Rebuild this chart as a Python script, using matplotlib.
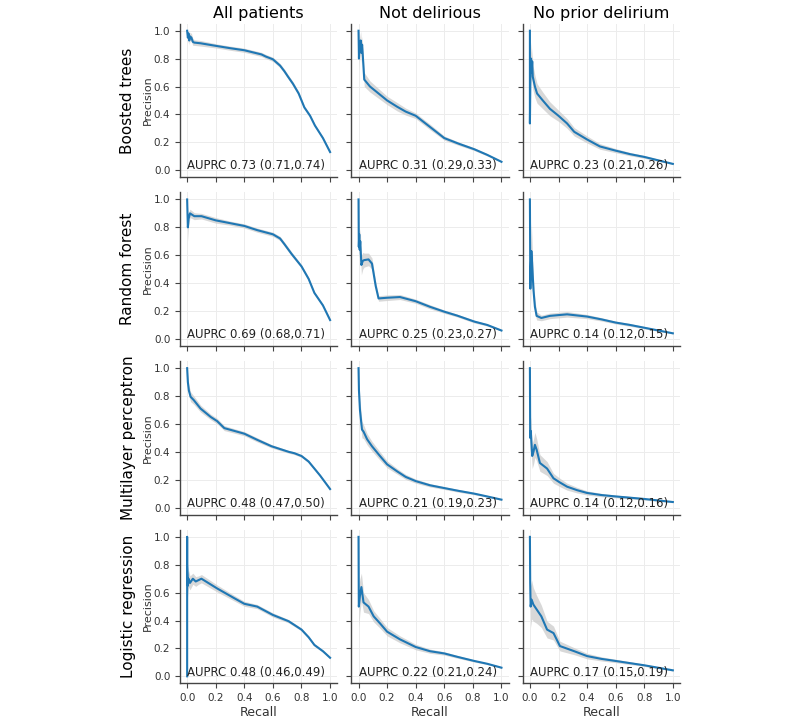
import matplotlib.pyplot as plt
import numpy as np

# Column / row names
groups = ['All patients', 'Not delirious', 'No prior delirium']
models = ['Boosted trees', 'Random forest', 'Multilayer perceptron', 'Logistic regression']

auprc_text = [
    ['AUPRC 0.73 (0.71,0.74)', 'AUPRC 0.31 (0.29,0.33)', 'AUPRC 0.23 (0.21,0.26)'],
    ['AUPRC 0.69 (0.68,0.71)', 'AUPRC 0.25 (0.23,0.27)', 'AUPRC 0.14 (0.12,0.15)'],
    ['AUPRC 0.48 (0.47,0.50)', 'AUPRC 0.21 (0.19,0.23)', 'AUPRC 0.14 (0.12,0.16)'],
    ['AUPRC 0.48 (0.46,0.49)', 'AUPRC 0.22 (0.21,0.24)', 'AUPRC 0.17 (0.15,0.19)'],
]

# Boosted trees
bt_all_recall = [0, 0.005, 0.01, 0.015, 0.02, 0.03, 0.04, 0.05, 0.094, 0.21, 0.3, 0.4, 0.52, 0.55, 0.6, 0.65, 0.68, 0.706, 0.74, 0.78, 0.8, 0.82, 0.86, 0.894, 0.95, 1.0]
bt_all_prec = [1.0, 0.95, 0.98, 0.93, 0.96, 0.95, 0.92, 0.915, 0.91, 0.89, 0.875, 0.86, 0.83, 0.815, 0.795, 0.75, 0.71, 0.67, 0.62, 0.55, 0.5, 0.45, 0.39, 0.32, 0.23, 0.13]
bt_all_band = [0.02, 0.04, 0.04, 0.03, 0.03, 0.03, 0.025, 0.02, 0.02, 0.015, 0.015, 0.015, 0.015, 0.015, 0.015, 0.015, 0.015, 0.015, 0.015, 0.015, 0.015, 0.012, 0.012, 0.01, 0.01, 0.01]

bt_nd_recall = [0, 0.003, 0.006, 0.01, 0.015, 0.02, 0.025, 0.03, 0.04, 0.08, 0.14, 0.2, 0.27, 0.33, 0.4, 0.45, 0.5, 0.6, 0.7, 0.81, 0.9, 1.0]
bt_nd_prec = [1.0, 0.8, 0.92, 0.86, 0.93, 0.84, 0.9, 0.82, 0.65, 0.6, 0.55, 0.5, 0.455, 0.42, 0.39, 0.35, 0.31, 0.23, 0.19, 0.15, 0.11, 0.06]
bt_nd_band = [0.05, 0.08, 0.08, 0.08, 0.07, 0.07, 0.06, 0.06, 0.05, 0.04, 0.035, 0.03, 0.03, 0.025, 0.02, 0.02, 0.02, 0.015, 0.012, 0.01, 0.008, 0.005]

bt_np_recall = [0, 0.0, 0.004, 0.008, 0.012, 0.016, 0.02, 0.035, 0.05, 0.09, 0.14, 0.2, 0.26, 0.31, 0.4, 0.49, 0.6, 0.7, 0.8, 0.9, 1.0]
bt_np_prec = [1.0, 0.335, 0.72, 0.8, 0.7, 0.78, 0.67, 0.6, 0.55, 0.5, 0.44, 0.39, 0.335, 0.275, 0.22, 0.17, 0.14, 0.115, 0.095, 0.07, 0.045]
bt_np_band = [0.1, 0.1, 0.12, 0.12, 0.1, 0.1, 0.09, 0.08, 0.07, 0.06, 0.05, 0.04, 0.035, 0.03, 0.025, 0.02, 0.015, 0.012, 0.01, 0.008, 0.005]

# Random forest
rf_all_recall = [0, 0.005, 0.01, 0.02, 0.05, 0.1, 0.2, 0.3, 0.4, 0.49, 0.6, 0.65, 0.68, 0.73, 0.8, 0.85, 0.89, 0.95, 1.0]
rf_all_prec = [1.0, 0.8, 0.86, 0.9, 0.88, 0.88, 0.85, 0.83, 0.81, 0.78, 0.75, 0.72, 0.68, 0.61, 0.52, 0.43, 0.33, 0.24, 0.135]
rf_all_band = [0.05, 0.1, 0.05, 0.03, 0.025, 0.02, 0.02, 0.015, 0.015, 0.015, 0.015, 0.015, 0.015, 0.015, 0.012, 0.012, 0.01, 0.01, 0.01]

rf_nd_recall = [0, 0.002, 0.005, 0.008, 0.012, 0.02, 0.03, 0.04, 0.07, 0.094, 0.12, 0.14, 0.2, 0.29, 0.4, 0.5, 0.6, 0.69, 0.81, 0.9, 1.0]
rf_nd_prec = [1.0, 0.66, 0.75, 0.64, 0.7, 0.53, 0.56, 0.565, 0.57, 0.54, 0.38, 0.29, 0.295, 0.3, 0.27, 0.23, 0.195, 0.167, 0.124, 0.1, 0.06]
rf_nd_band = [0.05, 0.1, 0.1, 0.1, 0.09, 0.07, 0.06, 0.05, 0.045, 0.04, 0.03, 0.02, 0.02, 0.018, 0.015, 0.015, 0.012, 0.01, 0.01, 0.008, 0.005]

rf_np_recall = [0, 0.003, 0.006, 0.01, 0.015, 0.025, 0.035, 0.047, 0.08, 0.14, 0.26, 0.4, 0.5, 0.6, 0.7, 0.8, 0.9, 1.0]
rf_np_prec = [1.0, 0.36, 0.5, 0.63, 0.55, 0.35, 0.23, 0.165, 0.15, 0.165, 0.176, 0.16, 0.14, 0.117, 0.1, 0.08, 0.06, 0.04]
rf_np_band = [0.05, 0.15, 0.2, 0.2, 0.15, 0.08, 0.05, 0.03, 0.02, 0.02, 0.02, 0.015, 0.012, 0.01, 0.01, 0.008, 0.006, 0.005]

# Multilayer perceptron
mlp_all_recall = [0, 0.005, 0.012, 0.024, 0.047, 0.094, 0.165, 0.21, 0.26, 0.33, 0.4, 0.49, 0.59, 0.71, 0.75, 0.8, 0.85, 0.89, 0.93, 1.0]
mlp_all_prec = [1.0, 0.9, 0.84, 0.795, 0.77, 0.71, 0.65, 0.62, 0.57, 0.55, 0.53, 0.486, 0.44, 0.4, 0.39, 0.37, 0.33, 0.28, 0.23, 0.133]
mlp_all_band = [0.02, 0.04, 0.04, 0.035, 0.03, 0.025, 0.02, 0.02, 0.018, 0.016, 0.015, 0.015, 0.012, 0.01, 0.01, 0.01, 0.01, 0.01, 0.01, 0.008]

mlp_nd_recall = [0, 0.003, 0.01, 0.024, 0.035, 0.06, 0.094, 0.15, 0.2, 0.27, 0.33, 0.4, 0.5, 0.6, 0.7, 0.81, 0.9, 1.0]
mlp_nd_prec = [1.0, 0.84, 0.7, 0.56, 0.545, 0.49, 0.44, 0.37, 0.31, 0.26, 0.22, 0.19, 0.16, 0.14, 0.12, 0.1, 0.08, 0.057]
mlp_nd_band = [0.03, 0.06, 0.07, 0.06, 0.05, 0.04, 0.035, 0.03, 0.025, 0.02, 0.018, 0.015, 0.012, 0.01, 0.01, 0.008, 0.006, 0.005]

mlp_np_recall = [0, 0.002, 0.006, 0.016, 0.025, 0.035, 0.047, 0.07, 0.12, 0.165, 0.21, 0.26, 0.33, 0.4, 0.5, 0.6, 0.8, 1.0]
mlp_np_prec = [1.0, 0.5, 0.55, 0.37, 0.4, 0.45, 0.415, 0.32, 0.28, 0.21, 0.18, 0.15, 0.125, 0.105, 0.09, 0.08, 0.062, 0.04]
mlp_np_band = [0.05, 0.1, 0.1, 0.09, 0.09, 0.09, 0.08, 0.06, 0.05, 0.035, 0.03, 0.025, 0.02, 0.015, 0.012, 0.01, 0.008, 0.005]

# Logistic regression
lr_all_recall = [0, 0.0, 0.0, 0.005, 0.01, 0.02, 0.04, 0.06, 0.08, 0.1, 0.21, 0.33, 0.4, 0.49, 0.6, 0.71, 0.8, 0.85, 0.89, 0.95, 1.0]
lr_all_prec = [0.0, 1.0, 0.8, 0.65, 0.7, 0.67, 0.7, 0.68, 0.69, 0.70, 0.63, 0.56, 0.52, 0.50, 0.44, 0.395, 0.335, 0.28, 0.225, 0.18, 0.133]
lr_all_band = [0.0, 0.0, 0.1, 0.08, 0.06, 0.05, 0.04, 0.035, 0.03, 0.03, 0.025, 0.02, 0.018, 0.015, 0.015, 0.012, 0.01, 0.01, 0.01, 0.008, 0.008]

lr_nd_recall = [0, 0.002, 0.01, 0.02, 0.035, 0.07, 0.106, 0.15, 0.2, 0.29, 0.4, 0.5, 0.6, 0.69, 0.81, 0.9, 1.0]
lr_nd_prec = [1.0, 0.5, 0.58, 0.64, 0.53, 0.5, 0.43, 0.38, 0.32, 0.265, 0.21, 0.18, 0.164, 0.14, 0.11, 0.09, 0.062]
lr_nd_band = [0.05, 0.15, 0.12, 0.1, 0.07, 0.05, 0.04, 0.035, 0.03, 0.025, 0.02, 0.015, 0.012, 0.01, 0.008, 0.006, 0.005]

lr_np_recall = [0, 0.002, 0.005, 0.012, 0.024, 0.047, 0.08, 0.12, 0.165, 0.21, 0.31, 0.4, 0.5, 0.6, 0.8, 1.0]
lr_np_prec = [1.0, 0.67, 0.5, 0.55, 0.515, 0.48, 0.43, 0.335, 0.31, 0.217, 0.18, 0.145, 0.125, 0.11, 0.079, 0.043]
lr_np_band = [0.05, 0.12, 0.15, 0.14, 0.12, 0.1, 0.08, 0.06, 0.05, 0.035, 0.025, 0.02, 0.015, 0.012, 0.008, 0.005]

curves = [
    [(bt_all_recall, bt_all_prec, bt_all_band), (bt_nd_recall, bt_nd_prec, bt_nd_band), (bt_np_recall, bt_np_prec, bt_np_band)],
    [(rf_all_recall, rf_all_prec, rf_all_band), (rf_nd_recall, rf_nd_prec, rf_nd_band), (rf_np_recall, rf_np_prec, rf_np_band)],
    [(mlp_all_recall, mlp_all_prec, mlp_all_band), (mlp_nd_recall, mlp_nd_prec, mlp_nd_band), (mlp_np_recall, mlp_np_prec, mlp_np_band)],
    [(lr_all_recall, lr_all_prec, lr_all_band), (lr_nd_recall, lr_nd_prec, lr_nd_band), (lr_np_recall, lr_np_prec, lr_np_band)],
]

fig, axes = plt.subplots(4, 3, figsize=(8, 7.2), dpi=100, sharex=True, sharey=True)
fig.subplots_adjust(left=0.225, right=0.85, top=0.967, bottom=0.051, wspace=0.09, hspace=0.10)

for i in range(4):
    for j in range(3):
        ax = axes[i, j]
        r, p, b = (np.array(v, dtype=float) for v in curves[i][j])
        ax.fill_between(r, np.clip(p - b, 0, 1), np.clip(p + b, 0, 1), color='#cccccc', alpha=0.75, lw=0)
        ax.plot(r, p, color='#1f77b4', lw=1.5)
        ax.text(0.0, 0.03, auprc_text[i][j], fontsize=8.5, color='#222222', va='center', ha='left')

        ax.set_xlim(-0.05, 1.05)
        ax.set_ylim(-0.05, 1.05)
        ax.set_xticks([0, 0.2, 0.4, 0.6, 0.8, 1.0])
        ax.set_yticks([0, 0.2, 0.4, 0.6, 0.8, 1.0])
        ax.grid(True, color='#ececec', lw=0.7)
        ax.set_axisbelow(True)
        for s in ['top', 'right']:
            ax.spines[s].set_visible(False)
        for s in ['left', 'bottom']:
            ax.spines[s].set_color('#444444')
            ax.spines[s].set_linewidth(1.0)
        ax.tick_params(labelsize=7.5, colors='#444444', labelcolor='#333333', length=3.5, width=0.8)

        if i == 0:
            ax.set_title(groups[j], fontsize=11.5, pad=4)
        if j == 0:
            ax.set_ylabel('Precision', fontsize=8, color='#333333', labelpad=1)
        if i == 3:
            ax.set_xlabel('Recall', fontsize=9, color='#333333', labelpad=2)

    # Row label on the left
    pos = axes[i, 0].get_position()
    fig.text(0.16, (pos.y0 + pos.y1) / 2, models[i], rotation=90, fontsize=11, ha='center', va='center')

plt.savefig('out.png', dpi=100)
